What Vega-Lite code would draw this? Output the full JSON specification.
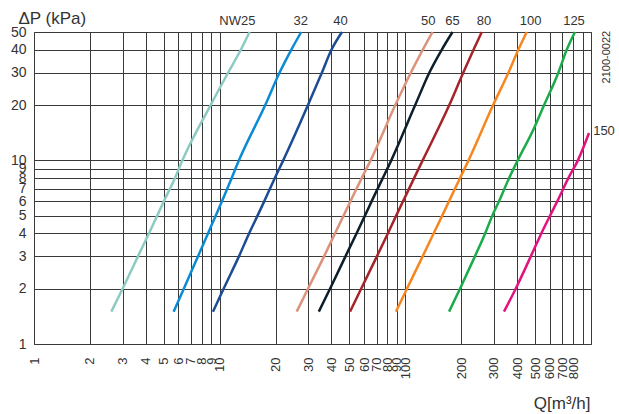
{
  "$schema": "https://vega.github.io/schema/vega-lite/v6.json",
  "width": 557,
  "height": 312,
  "autosize": {"type": "none"},
  "padding": {"left": 34, "top": 32, "right": 28, "bottom": 70},
  "background": "white",
  "config": {
    "font": "Liberation Sans",
    "view": {"stroke": "#555", "strokeWidth": 1}
  },
  "datasets": {
    "curves": [
      {"size": "NW25", "Q": 2.61, "dp": 1.5}, {"size": "NW25", "Q": 3.0, "dp": 2}, {"size": "NW25", "Q": 3.63, "dp": 3}, {"size": "NW25", "Q": 4.16, "dp": 4}, {"size": "NW25", "Q": 4.61, "dp": 5}, {"size": "NW25", "Q": 5.01, "dp": 6}, {"size": "NW25", "Q": 5.74, "dp": 8}, {"size": "NW25", "Q": 6.3, "dp": 10}, {"size": "NW25", "Q": 8.94, "dp": 20}, {"size": "NW25", "Q": 11.1, "dp": 30}, {"size": "NW25", "Q": 13.0, "dp": 40}, {"size": "NW25", "Q": 14.5, "dp": 50},
      {"size": "32", "Q": 5.65, "dp": 1.5}, {"size": "32", "Q": 6.41, "dp": 2}, {"size": "32", "Q": 7.64, "dp": 3}, {"size": "32", "Q": 8.65, "dp": 4}, {"size": "32", "Q": 9.52, "dp": 5}, {"size": "32", "Q": 10.3, "dp": 6}, {"size": "32", "Q": 11.6, "dp": 8}, {"size": "32", "Q": 12.7, "dp": 10}, {"size": "32", "Q": 17.6, "dp": 20}, {"size": "32", "Q": 21.0, "dp": 30}, {"size": "32", "Q": 24.3, "dp": 40}, {"size": "32", "Q": 27.5, "dp": 50},
      {"size": "40", "Q": 9.2, "dp": 1.5}, {"size": "40", "Q": 10.5, "dp": 2}, {"size": "40", "Q": 12.7, "dp": 3}, {"size": "40", "Q": 14.4, "dp": 4}, {"size": "40", "Q": 16.0, "dp": 5}, {"size": "40", "Q": 17.4, "dp": 6}, {"size": "40", "Q": 19.8, "dp": 8}, {"size": "40", "Q": 22.0, "dp": 10}, {"size": "40", "Q": 29.9, "dp": 20}, {"size": "40", "Q": 35.5, "dp": 30}, {"size": "40", "Q": 40.0, "dp": 40}, {"size": "40", "Q": 45.6, "dp": 50},
      {"size": "50", "Q": 26.0, "dp": 1.5}, {"size": "50", "Q": 29.9, "dp": 2}, {"size": "50", "Q": 36.5, "dp": 3}, {"size": "50", "Q": 41.8, "dp": 4}, {"size": "50", "Q": 46.5, "dp": 5}, {"size": "50", "Q": 50.7, "dp": 6}, {"size": "50", "Q": 58.2, "dp": 8}, {"size": "50", "Q": 65.0, "dp": 10}, {"size": "50", "Q": 88.3, "dp": 20}, {"size": "50", "Q": 107, "dp": 30}, {"size": "50", "Q": 124, "dp": 40}, {"size": "50", "Q": 140, "dp": 50},
      {"size": "65", "Q": 34.2, "dp": 1.5}, {"size": "65", "Q": 39.3, "dp": 2}, {"size": "65", "Q": 47.6, "dp": 3}, {"size": "65", "Q": 54.6, "dp": 4}, {"size": "65", "Q": 60.6, "dp": 5}, {"size": "65", "Q": 65.9, "dp": 6}, {"size": "65", "Q": 75.6, "dp": 8}, {"size": "65", "Q": 84.0, "dp": 10}, {"size": "65", "Q": 113, "dp": 20}, {"size": "65", "Q": 134.6, "dp": 30}, {"size": "65", "Q": 157, "dp": 40}, {"size": "65", "Q": 179.6, "dp": 50},
      {"size": "80", "Q": 50.4, "dp": 1.5}, {"size": "80", "Q": 57.8, "dp": 2}, {"size": "80", "Q": 70.3, "dp": 3}, {"size": "80", "Q": 80.5, "dp": 4}, {"size": "80", "Q": 89.3, "dp": 5}, {"size": "80", "Q": 97.3, "dp": 6}, {"size": "80", "Q": 111.5, "dp": 8}, {"size": "80", "Q": 124, "dp": 10}, {"size": "80", "Q": 172.5, "dp": 20}, {"size": "80", "Q": 205, "dp": 30}, {"size": "80", "Q": 233, "dp": 40}, {"size": "80", "Q": 258, "dp": 50},
      {"size": "100", "Q": 89, "dp": 1.5}, {"size": "100", "Q": 102, "dp": 2}, {"size": "100", "Q": 124, "dp": 3}, {"size": "100", "Q": 142, "dp": 4}, {"size": "100", "Q": 158, "dp": 5}, {"size": "100", "Q": 172, "dp": 6}, {"size": "100", "Q": 197, "dp": 8}, {"size": "100", "Q": 219, "dp": 10}, {"size": "100", "Q": 297, "dp": 20}, {"size": "100", "Q": 359, "dp": 30}, {"size": "100", "Q": 406, "dp": 40}, {"size": "100", "Q": 451, "dp": 50},
      {"size": "125", "Q": 172, "dp": 1.5}, {"size": "125", "Q": 197, "dp": 2}, {"size": "125", "Q": 237, "dp": 3}, {"size": "125", "Q": 269, "dp": 4}, {"size": "125", "Q": 294, "dp": 5}, {"size": "125", "Q": 320, "dp": 6}, {"size": "125", "Q": 362, "dp": 8}, {"size": "125", "Q": 403, "dp": 10}, {"size": "125", "Q": 494, "dp": 15}, {"size": "125", "Q": 559, "dp": 20}, {"size": "125", "Q": 667, "dp": 30}, {"size": "125", "Q": 740, "dp": 40}, {"size": "125", "Q": 820, "dp": 50},
      {"size": "150", "Q": 340, "dp": 1.5}, {"size": "150", "Q": 393, "dp": 2}, {"size": "150", "Q": 474, "dp": 3}, {"size": "150", "Q": 540, "dp": 4}, {"size": "150", "Q": 602, "dp": 5}, {"size": "150", "Q": 659, "dp": 6}, {"size": "150", "Q": 755, "dp": 8}, {"size": "150", "Q": 850, "dp": 10}, {"size": "150", "Q": 975, "dp": 14.1}
    ],
    "labels": [
      {"text": "NW25", "Q": 12.45, "dp": 57.3},
      {"text": "32", "Q": 27.3, "dp": 57.3},
      {"text": "40", "Q": 44.7, "dp": 57.3},
      {"text": "50", "Q": 133, "dp": 57.3},
      {"text": "65", "Q": 179.6, "dp": 57.3},
      {"text": "80", "Q": 265, "dp": 57.3},
      {"text": "100", "Q": 473, "dp": 57.3},
      {"text": "125", "Q": 810, "dp": 57.3},
      {"text": "150", "Q": 1175, "dp": 14.4}
    ],
    "code": [
      {"text": "2100-0022", "Q": 1219, "dp": 36.5}
    ]
  },
  "layer": [
    {
      "data": {"name": "curves"},
      "mark": {"type": "line", "strokeWidth": 2.5, "interpolate": "monotone"},
      "encoding": {
        "x": {
          "field": "Q", "type": "quantitative",
          "scale": {"type": "log", "domain": [1, 1000], "nice": false},
          "axis": {
            "values": [1,2,3,4,5,6,7,8,9,10,20,30,40,50,60,70,80,90,100,200,300,400,500,600,700,800,900,1000],
            "labelExpr": "datum.value >= 900 ? '' : format(datum.value, 'd')",
            "labelAngle": 270,
            "labelAlign": "right",
            "labelBaseline": "middle",
            "labelFontSize": 13,
            "labelColor": "#333",
            "labelPadding": 13,
            "labelOverlap": false,
            "labelFlush": false,
            "ticks": false,
            "domain": false,
            "grid": true,
            "gridColor": "#3a3a3a",
            "gridWidth": 1,
            "title": "Q[m³/h]",
            "titleFontSize": 17,
            "titleFontWeight": "normal",
            "titleColor": "#333",
            "titleAnchor": null,
            "titleAlign": "right",
            "titleBaseline": "middle",
            "titleX": 556,
            "titleY": 59
          }
        },
        "y": {
          "field": "dp", "type": "quantitative",
          "scale": {"type": "log", "domain": [1, 50], "nice": false},
          "axis": {
            "values": [1,2,3,4,5,6,7,8,9,10,20,30,40,50],
            "labelExpr": "format(datum.value, 'd')",
            "labelFontSize": 14,
            "labelColor": "#333",
            "labelPadding": 8,
            "labelOverlap": false,
            "labelFlush": false,
            "ticks": false,
            "domain": false,
            "grid": true,
            "gridColor": "#3a3a3a",
            "gridWidth": 1,
            "title": "ΔP (kPa)",
            "titleFontSize": 17,
            "titleFontWeight": "normal",
            "titleColor": "#333",
            "titleAngle": 0,
            "titleAnchor": null,
            "titleAlign": "left",
            "titleBaseline": "middle",
            "titleX": -16,
            "titleY": -14
          }
        },
        "color": {
          "field": "size", "type": "nominal",
          "scale": {
            "domain": ["NW25","32","40","50","65","80","100","125","150"],
            "range": ["#8ecac4","#0b8bd5","#1b4c94","#dc937b","#0d1f2b","#a6232a","#f7861f","#1aab4b","#e2137f"]
          },
          "legend": null
        },
        "detail": {"field": "size"}
      }
    },
    {
      "data": {"name": "labels"},
      "mark": {"type": "text", "fontSize": 13, "color": "#333", "align": "center", "baseline": "middle"},
      "encoding": {
        "x": {"field": "Q", "type": "quantitative"},
        "y": {"field": "dp", "type": "quantitative"},
        "text": {"field": "text"}
      }
    },
    {
      "data": {"name": "code"},
      "mark": {"type": "text", "fontSize": 11, "color": "#333", "angle": 270, "align": "center", "baseline": "middle"},
      "encoding": {
        "x": {"field": "Q", "type": "quantitative"},
        "y": {"field": "dp", "type": "quantitative"},
        "text": {"field": "text"}
      }
    }
  ]
}
